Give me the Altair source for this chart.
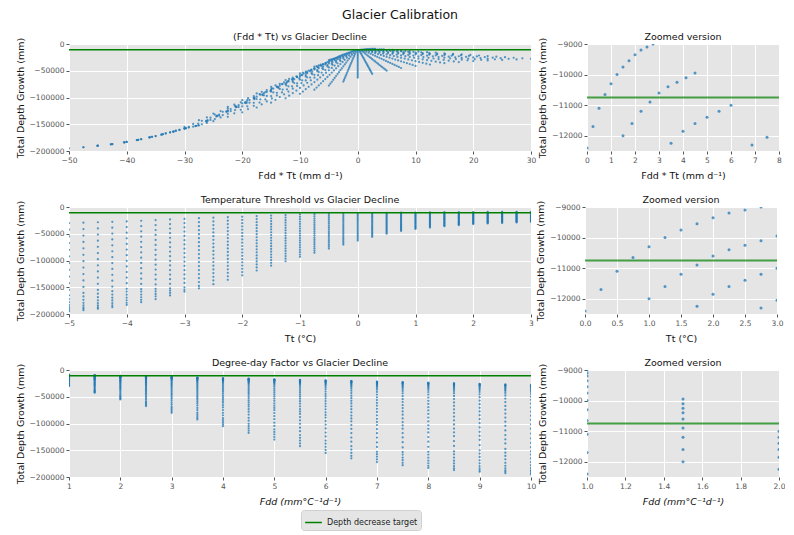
import altair as alt
import pandas as pd

tt_values = [-5.0, -4.75, -4.5, -4.25, -4.0, -3.75, -3.5, -3.25, -3.0, -2.75, -2.5, -2.25,
             -2.0, -1.75, -1.5, -1.25, -1.0, -0.75, -0.5, -0.25, 0.0, 0.25, 0.5, 0.75,
             1.0, 1.25, 1.5, 1.75, 2.0, 2.25, 2.5, 2.75, 3.0]
fdd_values = [1.0, 1.5, 2.0, 2.5, 3.0, 3.5, 4.0, 4.5, 5.0, 5.5,
              6.0, 6.5, 7.0, 7.5, 8.0, 8.5, 9.0, 9.5, 10.0]

# Total depth growth (mm); one row per Tt, one value per Fdd
depth_rows = [
    [-30000, -42500, -55000, -67500, -80000, -92500, -105000, -117500, -130000, -142500, -155000, -165000, -172000, -178000, -183000, -187000, -190000, -193000, -195000],
    [-29300, -41300, -53300, -65300, -77300, -89300, -101300, -113300, -125300, -137300, -149300, -160700, -167200, -173500, -179000, -183800, -187600, -190200, -193000],
    [-28500, -40000, -51500, -63000, -74500, -86000, -97500, -109000, -120500, -132000, -143500, -155000, -162000, -168500, -174500, -179500, -184000, -187500, -190000],
    [-27700, -38700, -49700, -60700, -71700, -82700, -93700, -104700, -115700, -126700, -137700, -148700, -157400, -163700, -169500, -174700, -179500, -183800, -187200],
    [-27000, -37500, -48000, -58500, -69000, -79500, -90000, -100500, -111000, -121500, -132000, -142500, -153000, -158000, -164000, -169500, -174500, -179000, -183000],
    [-25700, -35550, -45400, -55250, -65100, -74950, -84800, -94650, -104500, -114350, -124200, -134050, -143900, -153300, -158000, -163700, -168700, -173500, -178000],
    [-24500, -33800, -43000, -52300, -61500, -70800, -80000, -89300, -98500, -107800, -117000, -126300, -135500, -144800, -153000, -157500, -162500, -167000, -172000],
    [-23200, -31800, -40400, -49000, -57600, -66200, -74800, -83400, -92000, -100600, -109200, -117800, -126400, -135000, -143600, -152200, -156100, -160700, -165300],
    [-22000, -30000, -38000, -46000, -54000, -62000, -70000, -78000, -86000, -94000, -102000, -110000, -118000, -126000, -134000, -142000, -150000, -154500, -158000],
    [-21000, -28450, -35900, -43350, -50800, -58250, -65700, -73150, -80600, -88050, -95500, -102950, -110400, -117850, -125300, -132750, -140200, -147650, -152000],
    [-20000, -26900, -33800, -40700, -47600, -54500, -61400, -68300, -75200, -82100, -89000, -95900, -102800, -109700, -116600, -123500, -130400, -137300, -144200],
    [-19000, -25500, -32000, -38500, -45000, -51500, -58000, -64500, -71000, -77500, -84000, -90500, -97000, -103500, -110000, -116500, -123000, -129500, -136000],
    [-18000, -24100, -30200, -36300, -42400, -48500, -54600, -60700, -66800, -72900, -79000, -85100, -91200, -97300, -103400, -109500, -115600, -121700, -127800],
    [-17000, -22650, -28300, -33950, -39600, -45250, -50900, -56550, -62200, -67850, -73500, -79150, -84800, -90450, -96100, -101750, -107400, -113050, -118700],
    [-16000, -21200, -26400, -31600, -36800, -42000, -47200, -52400, -57600, -62800, -68000, -73200, -78400, -83600, -88800, -94000, -99200, -104400, -109600],
    [-15000, -19800, -24600, -29400, -34200, -39000, -43800, -48600, -53400, -58200, -63000, -67800, -72600, -77400, -82200, -87000, -91800, -96600, -101400],
    [-14000, -18400, -22800, -27200, -31600, -36000, -40400, -44800, -49200, -53600, -58000, -62400, -66800, -71200, -75600, -80000, -84400, -88800, -93200],
    [-13500, -17500, -21500, -25500, -29500, -33500, -37500, -41500, -45500, -49500, -53500, -57500, -61500, -65500, -69500, -73500, -77500, -81500, -85500],
    [-13000, -16600, -20200, -23800, -27400, -31000, -34600, -38200, -41800, -45400, -49000, -52600, -56200, -59800, -63400, -67000, -70600, -74200, -77800],
    [-12700, -15900, -19100, -22300, -25500, -28700, -31900, -35100, -38300, -41500, -44700, -47900, -51100, -54300, -57500, -60700, -63900, -67100, -70300],
    [-12400, -15200, -18000, -20800, -23600, -26400, -29200, -32000, -34800, -37600, -40400, -43200, -46000, -48800, -51600, -54400, -57200, -60000, -62800],
    [-11700, -14150, -16600, -19050, -21500, -23950, -26400, -28850, -31300, -33750, -36200, -38650, -41100, -43550, -46000, -48450, -50900, -53350, -55800],
    [-11100, -13250, -15400, -17550, -19700, -21850, -24000, -26150, -28300, -30450, -32600, -34750, -36900, -39050, -41200, -43350, -45500, -47650, -49800],
    [-10650, -12550, -14450, -16350, -18250, -20150, -22050, -23950, -25850, -27750, -29650, -31550, -33450, -35350, -37250, -39150, -41050, -42950, -44850],
    [-10300, -12000, -13700, -15400, -17100, -18800, -20500, -22200, -23900, -25600, -27300, -29000, -30700, -32400, -34100, -35800, -37500, -39200, -40900],
    [-10000, -11600, -13150, -14700, -16300, -17900, -19450, -21000, -22600, -24200, -25750, -27300, -28900, -30500, -32050, -33600, -35200, -36800, -38350],
    [-9750, -11200, -12650, -14100, -15550, -17000, -18450, -19900, -21350, -22800, -24250, -25700, -27150, -28600, -30050, -31500, -32950, -34400, -35850],
    [-9550, -10900, -12250, -13600, -14950, -16300, -17650, -19000, -20350, -21700, -23050, -24400, -25750, -27100, -28450, -29800, -31150, -32500, -33850],
    [-9350, -10600, -11850, -13100, -14350, -15600, -16850, -18100, -19350, -20600, -21850, -23100, -24350, -25600, -26850, -28100, -29350, -30600, -31850],
    [-9200, -10400, -11600, -12800, -14000, -15200, -16400, -17600, -18800, -20000, -21200, -22400, -23600, -24800, -26000, -27200, -28400, -29600, -30800],
    [-9100, -10250, -11400, -12550, -13700, -14850, -16000, -17150, -18300, -19450, -20600, -21750, -22900, -24050, -25200, -26350, -27500, -28650, -29800],
    [-9000, -10100, -11200, -12300, -13400, -14500, -15600, -16700, -17800, -18900, -20000, -21100, -22200, -23300, -24400, -25500, -26600, -27700, -28800],
    [-8900, -9950, -11000, -12050, -13100, -14150, -15200, -16250, -17300, -18350, -19400, -20450, -21500, -22550, -23600, -24650, -25700, -26750, -27800],
]

target_depth = [-10750]
target_label = ["Depth decrease target"]

records = []
for tt, row in zip(tt_values, depth_rows):
    for fdd, d in zip(fdd_values, row):
        records.append({"Tt": tt, "Fdd": fdd, "FddTt": fdd * tt, "Depth": d})
df = pd.DataFrame(records)
target_df = pd.DataFrame({"target": target_depth, "label": target_label})

LEFT_W, RIGHT_W, H = 462, 192, 107
FONT = "DejaVu Sans"
Y_TITLE = "Total Depth Growth (mm)"


def panel(xfield, xtitle, xdomain, xticks, xfmt, ydomain, yticks, title, width,
          zoom=False, italic=False, legend=False):
    x_axis = alt.Axis(values=xticks, format=xfmt, title=xtitle,
                      titleFontStyle="italic" if italic else "normal")
    y_axis = alt.Axis(values=yticks, format="d", title=Y_TITLE)
    y_scale = alt.Scale(domain=ydomain, nice=False, zero=False)
    pts = alt.Chart(df).mark_circle(
        size=9 if zoom else 5, color="#1f77b4", opacity=0.75, clip=True
    ).encode(
        x=alt.X(f"{xfield}:Q", scale=alt.Scale(domain=xdomain, nice=False, zero=False), axis=x_axis),
        y=alt.Y("Depth:Q", scale=y_scale, axis=y_axis),
    )
    if legend:
        leg = alt.Legend(orient="none", legendX=232, legendY=140, title=None,
                         symbolType="stroke", symbolStrokeWidth=1.5, symbolSize=280,
                         labelFontSize=8, labelFont=FONT, labelColor="#222222",
                         fillColor="#E5E5E5", strokeColor="#d0d0d0", padding=3,
                         cornerRadius=3)
    else:
        leg = None
    rule = alt.Chart(target_df).mark_rule(
        strokeWidth=2 if zoom else 1.5, opacity=0.7 if zoom else 1.0
    ).encode(
        y=alt.Y("target:Q", scale=y_scale, axis=y_axis),
        color=alt.Color("label:N", scale=alt.Scale(domain=target_label, range=["#008000"]), legend=leg),
    )
    return alt.layer(pts, rule).properties(
        width=width, height=H,
        title=alt.TitleParams(title, fontSize=9.5, font=FONT, fontWeight="normal", offset=-4),
    )


left_y = [-200000, -150000, -100000, -50000, 0]
zoom_y = [-12000, -11000, -10000, -9000]
HS = 1

r1 = alt.hconcat(
    panel("FddTt", "Fdd * Tt (mm d\u207b\u00b9)", [-50, 30], list(range(-50, 31, 10)), "d",
          [-200000, 0], left_y, "(Fdd * Tt) vs Glacier Decline", LEFT_W),
    panel("FddTt", "Fdd * Tt (mm d\u207b\u00b9)", [0, 8], list(range(0, 9)), "d",
          [-12500, -9000], zoom_y, "Zoomed version", RIGHT_W, zoom=True),
    spacing=HS,
)
r2 = alt.hconcat(
    panel("Tt", "Tt (\u00b0C)", [-5, 3], list(range(-5, 4)), "d",
          [-200000, 0], left_y, "Temperature Threshold vs Glacier Decline", LEFT_W),
    panel("Tt", "Tt (\u00b0C)", [0, 3], [0, 0.5, 1, 1.5, 2, 2.5, 3], ".1f",
          [-12500, -9000], zoom_y, "Zoomed version", RIGHT_W, zoom=True),
    spacing=HS,
)
r3 = alt.hconcat(
    panel("Fdd", "Fdd (mm\u00b0C\u207b\u00b9d\u207b\u00b9)", [1, 10], list(range(1, 11)), "d",
          [-200000, 0], left_y, "Degree-day Factor vs Glacier Decline", LEFT_W,
          italic=True, legend=True),
    panel("Fdd", "Fdd (mm\u00b0C\u207b\u00b9d\u207b\u00b9)", [1, 2], [1, 1.2, 1.4, 1.6, 1.8, 2.0], ".1f",
          [-12500, -9000], zoom_y, "Zoomed version", RIGHT_W, zoom=True, italic=True),
    spacing=HS,
)

chart = alt.vconcat(r1, r2, r3, spacing=14).resolve_scale(color="independent").properties(
    title=alt.TitleParams("Glacier Calibration", fontSize=12.5, font=FONT,
                          fontWeight="normal", anchor="middle", offset=10),
    padding={"left": 7, "top": 1, "right": 0, "bottom": 0},
).configure_view(
    fill="#E5E5E5", stroke=None
).configure_axis(
    labelFont=FONT, labelFontSize=7.5, labelColor="#555555", labelOverlap=False,
    labelFlush=False,
    titleFont=FONT, titleFontSize=9.5, titleColor="#111111", titleFontWeight="normal",
    grid=True, gridColor="#FFFFFF", gridWidth=1,
    domain=False, ticks=True, tickColor="#555555", tickSize=3,
    labelPadding=2, titlePadding=4,
).configure_axisX(titlePadding=7).configure_title(color="#111111")

chart.save("out.html", embed_options={"renderer": "svg", "actions": False})
